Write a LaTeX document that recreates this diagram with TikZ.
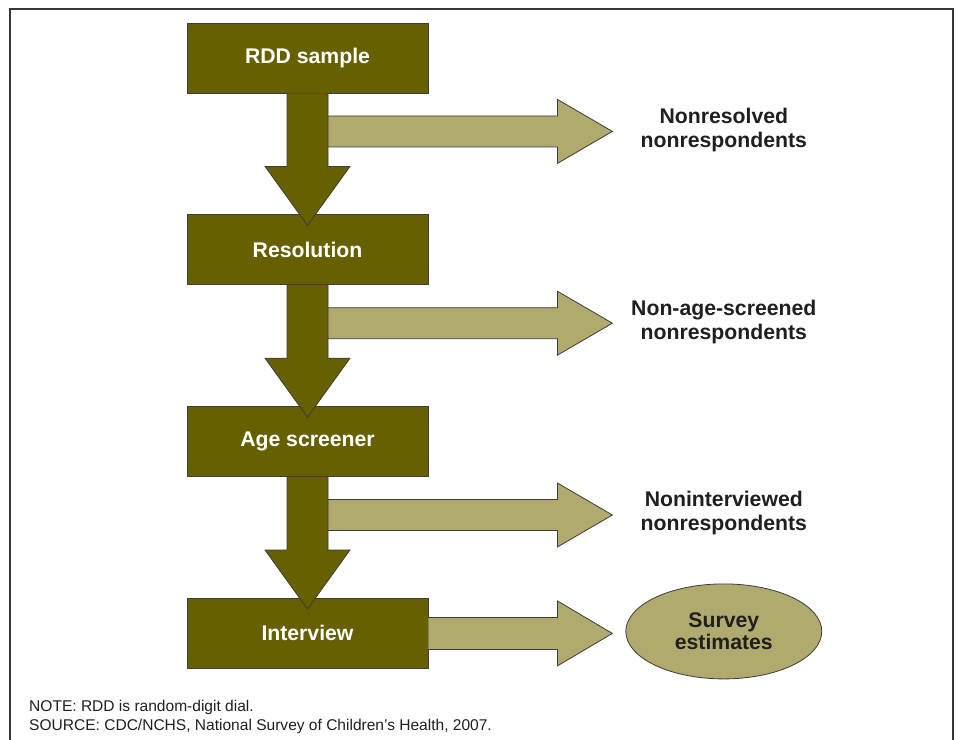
\documentclass[tikz,border=0pt]{standalone}
\usepackage{fontspec}
\setmainfont{Liberation Sans}
\usetikzlibrary{shapes,positioning,calc}
\definecolor{boxolive}{RGB}{102,96,0}
\definecolor{lightolive}{RGB}{176,170,110}
\definecolor{edgegray}{RGB}{60,60,60}
\definecolor{framegray}{RGB}{55,55,55}

\begin{document}
\begin{tikzpicture}[
    x=1bp, y=1bp,
    stage/.style={
        rectangle, draw=edgegray, line width=0.8bp, fill=boxolive,
        text=white, font=\fontsize{21.3}{24}\selectfont\bfseries,
        minimum width=241bp, minimum height=70bp, inner sep=0pt
    },
    outcome/.style={align=center, text=black!88, inner sep=0pt,
        font=\fontsize{21.3}{24}\selectfont\bfseries},
    result/.style={ellipse, draw=edgegray, line width=0.8bp, fill=lightolive,
        minimum width=196bp, minimum height=95bp, inner sep=0pt,
        align=center, text=black!88, font=\fontsize{21.3}{22}\selectfont\bfseries},
    downflow/.style={draw=edgegray, line width=0.8bp, fill=boxolive},
    sideflow/.style={draw=edgegray, line width=0.8bp, fill=lightolive},
    frameline/.style={draw=framegray, line width=2.5bp},
    note/.style={align=left, inner sep=0pt, text=black!88,
        font=\fontsize{15.6}{19}\selectfont}
]
\useasboundingbox (0,0) rectangle (957,-740);
\draw[frameline] (10,-745) -- (10,-9) -- (953,-9) -- (953,-745);

% stages
\node[stage] (rdd) at (307.5,-58) {RDD sample};
\node[stage, below=121bp of rdd] (res) {Resolution};
\node[stage, below=121bp of res] (age) {Age screener};
\node[stage, below=121bp of age] (int) {Interview};

% outcomes
\node[result, right=197bp of int, yshift=2bp] (est) {Survey\\estimates};
\node[outcome] (nores) at ($(rdd.south -| est)+(0,-37)$) {Nonresolved\\nonrespondents};
\node[outcome] (noage) at ($(res.south -| est)+(0,-37)$) {Non-age-screened\\nonrespondents};
\node[outcome] (noint) at ($(age.south -| est)+(0,-36)$) {Noninterviewed\\nonrespondents};

% side arrows
\foreach \a in {rdd,res,age}{
  \draw[sideflow] ($(\a.south)+(20.5,-22.5)$) -- ($(\a.south -| est.west)+(-68,-22.5)$)
    -- ($(\a.south -| est.west)+(-68,-6)$) -- ($(\a.south -| est.west)+(-13,-38)$)
    -- ($(\a.south -| est.west)+(-68,-70)$) -- ($(\a.south -| est.west)+(-68,-53.5)$)
    -- ($(\a.south)+(20.5,-53.5)$);
}
\draw[sideflow] ($(int.east)+(0,16)$) -- ($(int.east -| est.west)+(-68,16)$)
    -- ($(int.east -| est.west)+(-68,32.5)$) -- ($(int.east -| est.west)+(-13,0)$)
    -- ($(int.east -| est.west)+(-68,-32.5)$) -- ($(int.east -| est.west)+(-68,-16)$)
    -- ($(int.east)+(0,-16)$);

% down arrows
\foreach \a/\b in {rdd/res,res/age,age/int}{
  \draw[downflow] ($(\a.south)+(-20.5,0)$) -- ($(\b.north)+(-20.5,48)$)
    -- ($(\b.north)+(-42.5,48)$) -- ($(\b.north)+(0,-11)$)
    -- ($(\b.north)+(42.5,48)$) -- ($(\b.north)+(20.5,48)$)
    -- ($(\a.south)+(20.5,0)$);
}

\node[note, anchor=west] (src) at (29,-717) {NOTE: RDD is random-digit dial.\\SOURCE: CDC/NCHS, National Survey of Children’s Health, 2007.};
\end{tikzpicture}
\end{document}
